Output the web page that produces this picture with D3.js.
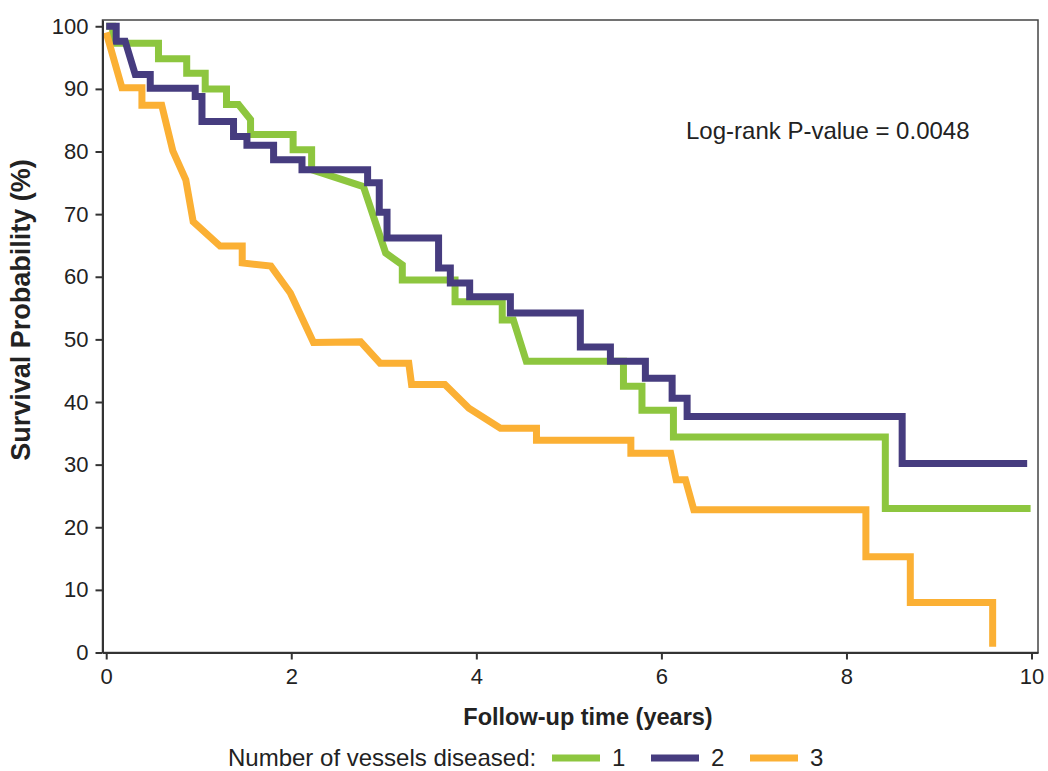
<!DOCTYPE html>
<html>
<head>
<meta charset="utf-8">
<script src="https://cdn.jsdelivr.net/npm/d3@7"></script>
<style>
  body { margin: 0; background: #fff; }
  text { font-family: "Liberation Sans", Arial, sans-serif; }
</style>
</head>
<body>
<script>
// Kaplan-Meier curves, [years, survival %]
const oneVessel = [
  [0, 100], [0.07, 100], [0.07, 97.3], [0.565, 97.3], [0.565, 94.8], [0.87, 94.8],
  [0.87, 92.5], [1.07, 92.5], [1.07, 90.0], [1.30, 90.0], [1.30, 87.5], [1.43, 87.5],
  [1.56, 85.1], [1.56, 82.7], [2.02, 82.7], [2.02, 80.3], [2.22, 80.3], [2.22, 77.1],
  [2.78, 74.4], [3.02, 63.8], [3.20, 61.9], [3.20, 59.5], [3.77, 59.5], [3.77, 56.0],
  [4.28, 56.0], [4.28, 53.1], [4.40, 53.1], [4.54, 46.5], [5.59, 46.5], [5.59, 42.5],
  [5.79, 42.5], [5.79, 38.7], [6.13, 38.7], [6.13, 34.4], [8.42, 34.4], [8.42, 23.0],
  [9.99, 23.0]
];
const twoVessels = [
  [0, 100], [0.108, 100], [0.108, 97.6], [0.205, 97.6], [0.314, 92.3], [0.476, 92.3],
  [0.476, 90.1], [0.962, 90.1], [0.962, 88.8], [1.035, 88.8], [1.035, 84.8], [1.376, 84.8],
  [1.376, 82.4], [1.521, 82.4], [1.521, 81.0], [1.809, 81.0], [1.809, 78.7], [2.116, 78.7],
  [2.116, 77.1], [2.825, 77.1], [2.825, 75.0], [2.951, 75.0], [2.951, 70.3], [3.035, 70.3],
  [3.035, 66.2], [3.592, 66.2], [3.592, 61.4], [3.719, 61.4], [3.719, 59.0], [3.928, 59.0],
  [3.928, 56.8], [4.368, 56.8], [4.368, 54.2], [5.124, 54.2], [5.124, 48.8], [5.449, 48.8],
  [5.449, 46.5], [5.827, 46.5], [5.827, 43.8], [6.116, 43.8], [6.116, 40.6], [6.278, 40.6],
  [6.278, 37.7], [8.602, 37.7], [8.602, 30.2], [9.953, 30.2]
];
const threeVessels = [
  [0, 99], [0.17, 90.2], [0.386, 90.2], [0.386, 87.4], [0.60, 87.4], [0.72, 80.1],
  [0.86, 75.5], [0.94, 68.8], [1.23, 64.9], [1.47, 64.9], [1.47, 62.2], [1.78, 61.7],
  [1.99, 57.4], [2.24, 49.5], [2.75, 49.6], [2.96, 46.2], [3.27, 46.2], [3.30, 42.8],
  [3.66, 42.8], [3.92, 39.0], [4.26, 35.8], [4.65, 35.8], [4.65, 33.9], [5.67, 33.9],
  [5.67, 31.8], [6.10, 31.8], [6.16, 27.6], [6.26, 27.6], [6.35, 22.8], [8.21, 22.8],
  [8.21, 15.3], [8.69, 15.3], [8.69, 8.0], [9.58, 8.0], [9.58, 0.9]
];

const groups = ['1', '2', '3'];
const colors = ['#8dc63f', '#463c7f', '#fbb034'];
const series = [oneVessel, twoVessels, threeVessels];

const xTicks = [0, 2, 4, 6, 8, 10];
const yTicks = [0, 10, 20, 30, 40, 50, 60, 70, 80, 90, 100];
const pValueText = 'Log-rank P-value = 0.0048';

// dimensions of the picture and the plot box
const width = 1048;
const height = 771;
const box = ({left: 102.5, right: 1038, top: 20, bottom: 652.5});

const xScale = d3.scaleLinear()
  .domain([-0.04, 10.07])
  .range([box.left, box.right]);

const yScale = d3.scaleLinear()
  .domain([0, 101])
  .range([box.bottom, box.top]);

const svg = d3.select('body')
  .append('svg')
  .attr('width', width)
  .attr('height', height)
  .style('background-color', '#fff');

// frame around the plot (top and right sides)
svg.append('rect')
  .attr('x', box.left)
  .attr('y', box.top)
  .attr('width', box.right - box.left)
  .attr('height', box.bottom - box.top)
  .attr('fill', 'none')
  .attr('stroke', '#444')
  .attr('stroke-width', 1.5);

// curves
const line = d3.line()
  .x(d => xScale(d[0]))
  .y(d => yScale(d[1]));

svg.append('g')
  .selectAll('path')
  .data(series)
  .join('path')
  .attr('d', line)
  .attr('fill', 'none')
  .attr('stroke', (d, i) => colors[i])
  .attr('stroke-width', 7)
  .attr('stroke-linejoin', 'miter');

// x axis
const xAxis = svg.append('g')
  .attr('transform', `translate(0, ${box.bottom})`)
  .call(d3.axisBottom(xScale).tickValues(xTicks).tickSize(7).tickSizeOuter(0).tickPadding(9));

// y axis
const yAxis = svg.append('g')
  .attr('transform', `translate(${box.left}, 0)`)
  .call(d3.axisLeft(yScale).tickValues(yTicks).tickSize(7).tickSizeOuter(0).tickPadding(7));

[xAxis, yAxis].forEach(ax => {
  ax.select('.domain').attr('stroke', '#333').attr('stroke-width', 2);
  ax.selectAll('.tick line').attr('stroke', '#333').attr('stroke-width', 2);
  ax.selectAll('text')
    .style('font-family', '"Liberation Sans", Arial, sans-serif')
    .style('font-size', '22px')
    .attr('fill', '#222');
});

// axis titles
svg.append('text')
  .attr('x', 588)
  .attr('y', 725)
  .attr('text-anchor', 'middle')
  .style('font-size', '23.5px')
  .style('font-weight', 'bold')
  .attr('fill', '#222')
  .text('Follow-up time (years)');

svg.append('text')
  .attr('transform', 'translate(30, 310) rotate(-90)')
  .attr('text-anchor', 'middle')
  .style('font-size', '27px')
  .style('font-weight', 'bold')
  .attr('fill', '#222')
  .text('Survival Probability (%)');

// p-value note
svg.append('text')
  .attr('x', 686)
  .attr('y', 139)
  .style('font-size', '24px')
  .attr('fill', '#222')
  .text(pValueText);

// legend
const legend = svg.append('g').attr('transform', 'translate(0, 758)');

legend.append('text')
  .attr('x', 228)
  .attr('y', 8)
  .style('font-size', '24px')
  .attr('fill', '#222')
  .text('Number of vessels diseased:');

const legendX = d3.scalePoint()
  .domain(groups)
  .range([552, 750]);

const item = legend.selectAll('.item')
  .data(groups)
  .join('g')
  .attr('class', 'item')
  .attr('transform', d => `translate(${legendX(d)}, 0)`);

item.append('line')
  .attr('x1', 0)
  .attr('x2', 48)
  .attr('stroke', (d, i) => colors[i])
  .attr('stroke-width', 7);

item.append('text')
  .attr('x', 60)
  .attr('y', 8)
  .style('font-size', '24px')
  .attr('fill', '#222')
  .text(d => d);
</script>
</body>
</html>
